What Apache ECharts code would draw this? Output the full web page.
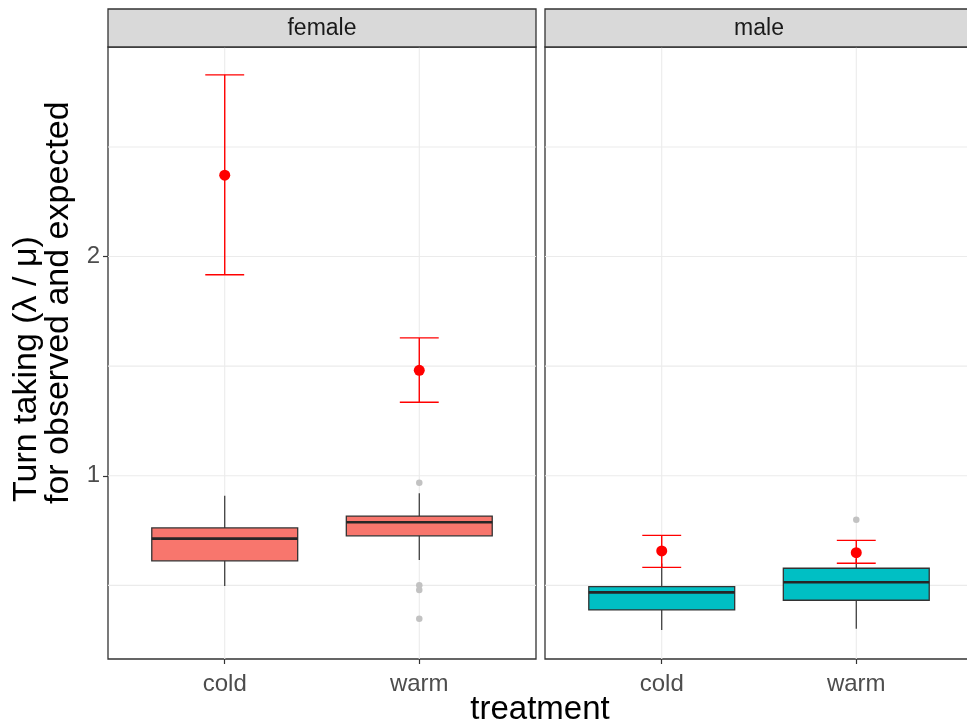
<!DOCTYPE html>
<html><head><meta charset="utf-8">
<script src="https://cdn.jsdelivr.net/npm/echarts@6/dist/echarts.min.js"></script>
<style>html,body{margin:0;padding:0;background:#fff}#c{width:967px;height:724px}</style>
</head><body><div id="c"></div>
<script>
// ---- data ----
const facets = ['female', 'male'];
const treatments = ['cold', 'warm'];
const yTickValues = [1, 2];
const yGridValues = [0.5, 1, 1.5, 2, 2.5];
// box stats per treatment: [whiskerLow, Q1, median, Q3, whiskerHigh]
const femaleBoxes = [[0.497, 0.612, 0.713, 0.762, 0.909], [0.616, 0.726, 0.788, 0.816, 0.920]];
const maleBoxes = [[0.296, 0.388, 0.468, 0.494, 0.600], [0.302, 0.432, 0.514, 0.578, 0.620]];
// outliers: [treatment, value]
const femaleOutliers = [['warm', 0.968], ['warm', 0.500], ['warm', 0.479], ['warm', 0.348]];
const maleOutliers = [['warm', 0.799]];
// observed estimate with interval
const femaleObserved = [2.371, 1.481];
const femaleLower = [1.917, 1.335];
const femaleUpper = [2.829, 1.629];
const maleObserved = [0.657, 0.649];
const maleLower = [0.582, 0.601];
const maleUpper = [0.728, 0.705];

// ---- layout / style ----
const FONT = 'Liberation Sans';
const fillColors = ['#F8766D', '#00BFC4'];
const gridBoxes = [{left: 108, top: 47, width: 428, height: 612}, {left: 545, top: 47, width: 428, height: 612}];
const Y_MIN = 0.164, Y_MAX = 2.956;
const BOX_HALF = 0.375, CAP_HALF = 0.1;

const boxesByFacet = [femaleBoxes, maleBoxes];
const outliersByFacet = [femaleOutliers, maleOutliers];
const obsByFacet = [femaleObserved, maleObserved];
const loByFacet = [femaleLower, maleLower];
const hiByFacet = [femaleUpper, maleUpper];

const chart = echarts.init(document.getElementById('c'));

const grids = [], xAxes = [], yAxes = [], series = [];
facets.forEach((f, g) => {
  grids.push(Object.assign({show: true, outerBoundsMode: 'none', containLabel: false, borderColor: '#333333', borderWidth: 1.3, backgroundColor: '#ffffff'}, gridBoxes[g]));
  xAxes.push({
    gridIndex: g, type: 'value', min: 0.4, max: 2.6,
    splitLine: {show: false}, axisLine: {show: false},
    axisTick: {show: true, length: 5, customValues: [1, 2], lineStyle: {color: '#333333', width: 1.2}},
    axisLabel: {customValues: [1, 2], formatter: v => treatments[Math.round(v) - 1] || '', fontSize: 24, color: '#4d4d4d', margin: 13, fontFamily: FONT}
  });
  yAxes.push({
    gridIndex: g, type: 'value', min: Y_MIN, max: Y_MAX,
    splitLine: {show: false}, axisLine: {show: false},
    axisTick: {show: g === 0, length: 5, customValues: yTickValues, lineStyle: {color: '#333333', width: 1.2}},
    axisLabel: {show: g === 0, customValues: yTickValues, fontSize: 24, color: '#4d4d4d', margin: 8, fontFamily: FONT, formatter: v => String(v)}
  });
  // grid lines
  series.push({
    type: 'custom', xAxisIndex: g, yAxisIndex: g, z: 1, silent: true,
    data: yGridValues.map(v => ['h', v]).concat(treatments.map((t, i) => ['v', i + 1])),
    dimensions: ['kind', 'val'],
    renderItem: (params, api) => {
      const cs = params.coordSys;
      const kind = params.dataIndex < yGridValues.length ? 'h' : 'v';
      const v = api.value(1);
      if (kind === 'h') {
        const y = api.coord([1, v])[1];
        return {type: 'line', shape: {x1: cs.x, y1: y, x2: cs.x + cs.width, y2: y}, style: {stroke: '#ebebeb', lineWidth: 1.1}};
      }
      const x = api.coord([v, 1])[0];
      return {type: 'line', shape: {x1: x, y1: cs.y, x2: x, y2: cs.y + cs.height}, style: {stroke: '#ebebeb', lineWidth: 1.1}};
    }
  });
  // boxes
  series.push({
    type: 'custom', xAxisIndex: g, yAxisIndex: g, z: 2, silent: true,
    data: boxesByFacet[g].map((b, i) => [i + 1].concat(b)),
    renderItem: (params, api) => {
      const x = api.value(0);
      const lo = api.coord([x, api.value(1)]);
      const q1 = api.coord([x, api.value(2)]);
      const md = api.coord([x, api.value(3)]);
      const q3 = api.coord([x, api.value(4)]);
      const hi = api.coord([x, api.value(5)]);
      const l = api.coord([x - BOX_HALF, 1])[0];
      const r = api.coord([x + BOX_HALF, 1])[0];
      const stroke = '#333333';
      return {type: 'group', children: [
        {type: 'line', shape: {x1: lo[0], y1: lo[1], x2: q1[0], y2: q1[1]}, style: {stroke, lineWidth: 1.2}},
        {type: 'line', shape: {x1: q3[0], y1: q3[1], x2: hi[0], y2: hi[1]}, style: {stroke, lineWidth: 1.2}},
        {type: 'rect', shape: {x: l, y: q3[1], width: r - l, height: q1[1] - q3[1]}, style: {fill: fillColors[g], stroke, lineWidth: 1.3}},
        {type: 'line', shape: {x1: l, y1: md[1], x2: r, y2: md[1]}, style: {stroke: '#262626', lineWidth: 2.6}}
      ]};
    }
  });
  // outliers
  series.push({
    type: 'scatter', xAxisIndex: g, yAxisIndex: g, z: 3, silent: true,
    symbol: 'circle', symbolSize: 6.5, itemStyle: {color: '#c2c2c2', opacity: 1},
    data: outliersByFacet[g].map(o => [treatments.indexOf(o[0]) + 1, o[1]])
  });
  // error bars
  series.push({
    type: 'custom', xAxisIndex: g, yAxisIndex: g, z: 4, silent: true,
    data: treatments.map((t, i) => [i + 1, loByFacet[g][i], hiByFacet[g][i]]),
    renderItem: (params, api) => {
      const x = api.value(0);
      const lo = api.coord([x, api.value(1)]);
      const hi = api.coord([x, api.value(2)]);
      const l = api.coord([x - CAP_HALF, 1])[0];
      const r = api.coord([x + CAP_HALF, 1])[0];
      const st = {stroke: '#ff0000', lineWidth: 1.4};
      return {type: 'group', children: [
        {type: 'line', shape: {x1: lo[0], y1: lo[1], x2: hi[0], y2: hi[1]}, style: st},
        {type: 'line', shape: {x1: l, y1: lo[1], x2: r, y2: lo[1]}, style: st},
        {type: 'line', shape: {x1: l, y1: hi[1], x2: r, y2: hi[1]}, style: st}
      ]};
    }
  });
  // observed points
  series.push({
    type: 'scatter', xAxisIndex: g, yAxisIndex: g, z: 5, silent: true,
    symbol: 'circle', symbolSize: 11, itemStyle: {color: '#ff0000', opacity: 1},
    data: obsByFacet[g].map((v, i) => [i + 1, v])
  });
});

const graphics = [];
facets.forEach((f, g) => {
  const gb = gridBoxes[g];
  graphics.push({type: 'rect', shape: {x: gb.left, y: 9, width: gb.width, height: gb.top - 9}, style: {fill: '#d9d9d9', stroke: '#333333', lineWidth: 1.3}, z: 10});
  graphics.push({type: 'text', x: gb.left + gb.width / 2, y: 28.5, style: {text: f, font: '23px ' + FONT, fill: '#1a1a1a', align: 'center', verticalAlign: 'middle'}, z: 11});
});
graphics.push({type: 'text', x: 540, y: 710, style: {text: 'treatment', font: '33px ' + FONT, fill: '#000000', align: 'center', verticalAlign: 'middle'}});
graphics.push({type: 'text', x: 27, y: 502, rotation: Math.PI / 2, style: {text: 'Turn taking (λ / μ)', font: '34px ' + FONT, fill: '#000000', align: 'left', verticalAlign: 'middle'}});
graphics.push({type: 'text', x: 59, y: 504, rotation: Math.PI / 2, style: {text: 'for observed and expected', font: '34px ' + FONT, fill: '#000000', align: 'left', verticalAlign: 'middle'}});

chart.setOption({
  animation: false,
  backgroundColor: '#ffffff',
  grid: grids, xAxis: xAxes, yAxis: yAxes, series,
  graphic: graphics
});
</script></body></html>
